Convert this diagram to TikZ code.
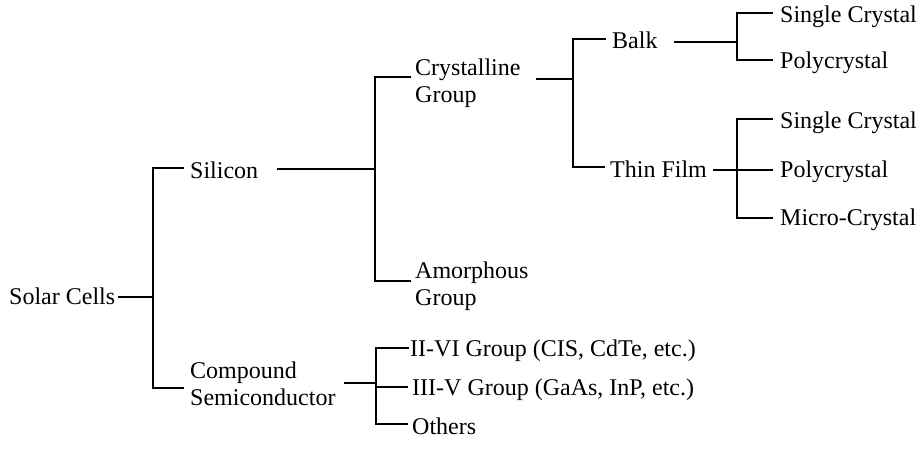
\documentclass[tikz,border=0pt]{standalone}
\usepackage{fontspec}
\setmainfont{Liberation Serif}
\begin{document}
\begin{tikzpicture}[x=1pt,y=-1pt,
  lbl/.style={anchor=base west,inner sep=0pt,font=\fontsize{24}{27}\selectfont},
  wire/.style={line width=1.5pt,line cap=rect}]
\useasboundingbox (0,0) rectangle (923,461);
% labels
\node[lbl] (sc) at (9,304) {Solar Cells};
\node[lbl] (si) at (190,178) {Silicon};
\node[lbl] (co) at (190,378) {\begin{tabular}[t]{@{}l@{}}Compound\\Semiconductor\end{tabular}};
\node[lbl] (cr) at (415,75) {\begin{tabular}[t]{@{}l@{}}Crystalline\\Group\end{tabular}};
\node[lbl] (am) at (415,278) {\begin{tabular}[t]{@{}l@{}}Amorphous\\Group\end{tabular}};
\node[lbl] (ba) at (612,48) {Balk};
\node[lbl] (tf) at (610,177) {Thin Film};
\node[lbl] (s1) at (780,22) {Single Crystal};
\node[lbl] (p1) at (780,68) {Polycrystal};
\node[lbl] (s2) at (780,128) {Single Crystal};
\node[lbl] (p2) at (780,177) {Polycrystal};
\node[lbl] (mc) at (780,225) {Micro-Crystal};
\node[lbl] (g26) at (410,356) {II-VI Group (CIS, CdTe, etc.)};
\node[lbl] (g35) at (412,395) {III-V Group (GaAs, InP, etc.)};
\node[lbl] (ot) at (412,434) {Others};
% coordinates
\coordinate (sc-out) at (119,297);
\coordinate (t1a) at (153,168); \coordinate (t1b) at (153,388); \coordinate (t1m) at (153,297);
\coordinate (si-in) at (183,168); \coordinate (co-in) at (183,388);
\coordinate (si-out) at (278,169); \coordinate (t2m) at (375,169);
\coordinate (t2a) at (375,77); \coordinate (t2b) at (375,281);
\coordinate (cr-in) at (410,77); \coordinate (am-in) at (410,281);
\coordinate (cr-out) at (537,79); \coordinate (t3m) at (573,79);
\coordinate (t3a) at (573,39); \coordinate (t3b) at (573,167);
\coordinate (ba-in) at (605,39); \coordinate (tf-in) at (604,167);
\coordinate (ba-out) at (675,42); \coordinate (t4m) at (737,42);
\coordinate (t4a) at (737,13); \coordinate (t4b) at (737,60);
\coordinate (s1-in) at (772,13); \coordinate (p1-in) at (772,60);
\coordinate (tf-out) at (714,170); \coordinate (p2-in) at (772,170);
\coordinate (t5a) at (737,119); \coordinate (t5b) at (737,218);
\coordinate (s2-in) at (772,119); \coordinate (mc-in) at (772,218);
\coordinate (co-out) at (345,383); \coordinate (t6m) at (376,383);
\coordinate (t6a) at (376,348); \coordinate (t6b) at (376,424);
\coordinate (g26-in) at (408,348); \coordinate (g35-in) at (407,387); \coordinate (ot-in) at (407,424);
% connectors
\draw[wire] (sc-out) -- (t1m);
\draw[wire] (si-in) -- (t1a) -- (t1b) -- (co-in);
\draw[wire] (si-out) -- (t2m);
\draw[wire] (cr-in) -- (t2a) -- (t2b) -- (am-in);
\draw[wire] (cr-out) -- (t3m);
\draw[wire] (ba-in) -- (t3a) -- (t3b) -- (tf-in);
\draw[wire] (ba-out) -- (t4m);
\draw[wire] (s1-in) -- (t4a) -- (t4b) -- (p1-in);
\draw[wire] (tf-out) -- (p2-in);
\draw[wire] (s2-in) -- (t5a) -- (t5b) -- (mc-in);
\draw[wire] (co-out) -- (t6m);
\draw[wire] (g26-in) -- (t6a) -- (t6b) -- (ot-in);
\draw[wire] (t6a |- g35-in) -- (g35-in);
\end{tikzpicture}
\end{document}
